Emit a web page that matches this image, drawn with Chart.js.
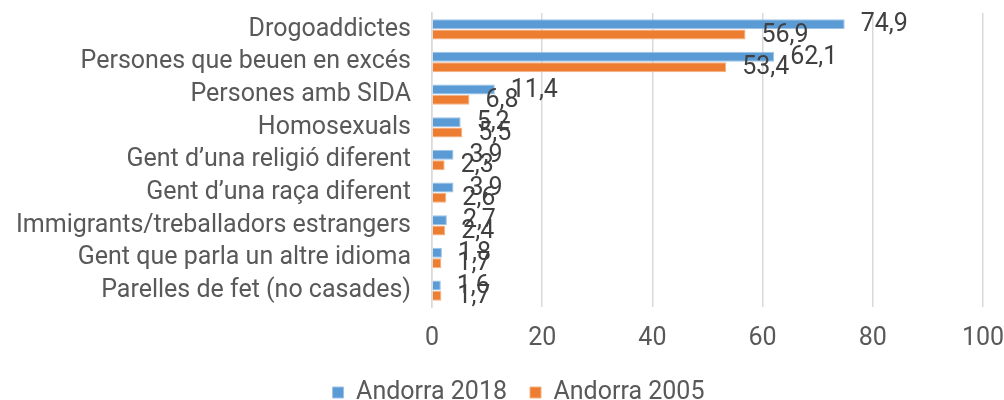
<!DOCTYPE html>
<html>
<head>
<meta charset="utf-8">
<script src="https://cdn.jsdelivr.net/npm/chart.js@4/dist/chart.umd.min.js"></script>
<style>
  html, body { margin: 0; padding: 0; background: #fff; }
  #wrap { width: 1004px; height: 400px; }
</style>
</head>
<body>
<div id="wrap"><canvas id="chart"></canvas></div>
<script>
// Chart data
const categories = [
    'Drogoaddictes',
    'Persones que beuen en excés',
    'Persones amb SIDA',
    'Homosexuals',
    'Gent d\u2019una religió diferent',
    'Gent d\u2019una raça diferent',
    'Immigrants/treballadors estrangers',
    'Gent que parla un altre idioma',
    'Parelles de fet (no casades)'
];
const andorra2018 = [74.9, 62.1, 11.4, 5.2, 3.9, 3.9, 2.7, 1.8, 1.6];
const andorra2005 = [56.9, 53.4, 6.8, 5.5, 2.3, 2.6, 2.4, 1.7, 1.7];
const xTicks = [0, 20, 40, 60, 80, 100];

const FONT = 'Roboto, "Noto Sans", sans-serif';
const FONT_SIZE = 25;

// Value labels drawn just past the end of each bar
const valueLabels = {
    id: 'valueLabels',
    afterDatasetsDraw(chart) {
        const ctx = chart.ctx;
        ctx.save();
        ctx.font = FONT_SIZE + 'px ' + FONT;
        ctx.fillStyle = '#404040';
        ctx.textAlign = 'left';
        ctx.textBaseline = 'middle';
        chart.data.datasets.forEach(function(ds, i) {
            chart.getDatasetMeta(i).data.forEach(function(bar, j) {
                const txt = ds.data[j].toFixed(1).replace('.', ',');
                ctx.fillText(txt, bar.x + 16, bar.y + 1);
            });
        });
        ctx.restore();
    }
};

// The left layout padding only serves to centre the legend like the original;
// let the category axis use the whole left side so long labels are not clipped.
const widenYAxis = {
    id: 'widenYAxis',
    afterLayout(chart) {
        chart.scales.y.left = 0;
    }
};

new Chart(document.getElementById('chart'), {
    type: 'bar',
    data: {
        labels: categories,
        datasets: [{
            label: 'Andorra 2018',
            data: andorra2018,
            backgroundColor: '#5B9BD5',
            borderColor: '#9DC3E6',
            borderWidth: 1,
            categoryPercentage: 0.64,
            barPercentage: 0.95
        }, {
            label: 'Andorra 2005',
            data: andorra2005,
            backgroundColor: '#ED7D31',
            borderColor: '#F4B183',
            borderWidth: 1,
            categoryPercentage: 0.64,
            barPercentage: 0.95
        }]
    },
    options: {
        indexAxis: 'y',
        responsive: true,
        maintainAspectRatio: false,
        animation: false,
        layout: {
            padding: { top: 13, right: 21, left: 54, bottom: -15 }
        },
        plugins: {
            legend: {
                position: 'bottom',
                labels: {
                    font: { family: FONT, size: FONT_SIZE },
                    color: '#595959',
                    boxWidth: 11,
                    boxHeight: 11,
                    padding: 23
                }
            },
            tooltip: { enabled: false }
        },
        scales: {
            x: {
                min: 0,
                max: 100,
                afterBuildTicks: function(scale) {
                    scale.ticks = xTicks.map(function(v) { return { value: v }; });
                },
                afterFit: function(scale) {
                    scale.height = 50;
                    scale.paddingLeft = 0;
                    scale.paddingRight = 0;
                },
                grid: {
                    color: '#D9D9D9',
                    lineWidth: 1.5,
                    drawTicks: false
                },
                border: { display: false },
                ticks: {
                    font: { family: FONT, size: FONT_SIZE },
                    color: '#595959',
                    padding: 17
                }
            },
            y: {
                afterFit: function(scale) {
                    scale.width = 378;
                    scale.paddingTop = 0;
                    scale.paddingBottom = 0;
                },
                grid: { display: false, drawTicks: false },
                border: { color: '#D9D9D9', width: 1.5 },
                ticks: {
                    font: { family: FONT, size: FONT_SIZE },
                    color: '#595959',
                    padding: 21,
                    autoSkip: false
                }
            }
        }
    },
    plugins: [valueLabels, widenYAxis]
});
</script>
</body>
</html>
